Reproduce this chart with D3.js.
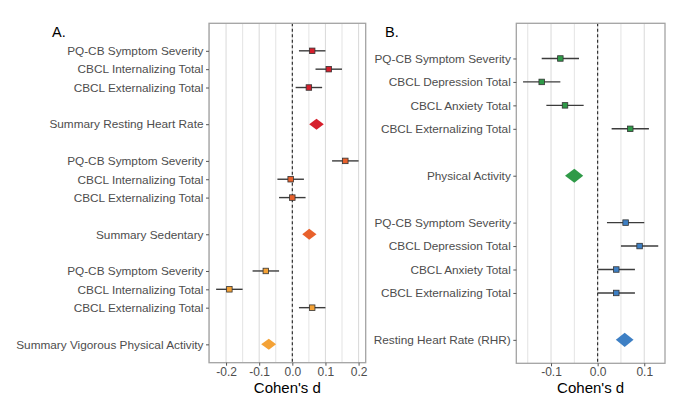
<!DOCTYPE html>
<html><head><meta charset="utf-8">
<script src="https://cdn.jsdelivr.net/npm/d3@7"></script>
<style>body{margin:0;background:#fff}svg{display:block}text{font-family:"Liberation Sans",Arial,sans-serif}</style>
</head><body><svg id="c" width="680" height="400"></svg>
<script>
// ---------- Panel A data ----------
const measuresA = ["PQ-CB Symptom Severity","CBCL Internalizing Total","CBCL Externalizing Total"];
const summaryLabelsA = ["Summary Resting Heart Rate","Summary Sedentary","Summary Vigorous Physical Activity"];
const estA = [[0.06, 0.11, 0.05],[0.16, -0.005, 0.0],[-0.08, -0.19, 0.06]];
const loA  = [[0.02, 0.07, 0.01],[0.12, -0.045, -0.04],[-0.12, -0.23, 0.02]];
const hiA  = [[0.10, 0.15, 0.09],[0.20, 0.035, 0.04],[-0.04, -0.15, 0.10]];
const sumEstA = [0.073, 0.051, -0.071];
const sumLoA  = [0.051, 0.030, -0.094];
const sumHiA  = [0.095, 0.073, -0.049];
const colorsA = ["#d61f2c","#e8612c","#f4a236"];
const ticksA = [-0.2,-0.1,0.0,0.1,0.2];

// ---------- Panel B data ----------
const measuresB = ["PQ-CB Symptom Severity","CBCL Depression Total","CBCL Anxiety Total","CBCL Externalizing Total"];
const summaryLabelsB = ["Physical Activity","Resting Heart Rate (RHR)"];
const estB = [[-0.08, -0.12, -0.07, 0.07],[0.06, 0.09, 0.04, 0.04]];
const loB  = [[-0.12, -0.16, -0.11, 0.03],[0.02, 0.05, 0.0, 0.0]];
const hiB  = [[-0.04, -0.08, -0.03, 0.11],[0.10, 0.13, 0.08, 0.08]];
const sumEstB = [-0.05, 0.058];
const sumLoB  = [-0.070, 0.039];
const sumHiB  = [-0.031, 0.077];
const colorsB = ["#2f9a48","#3d7fc4"];
const ticksB = [-0.1,0.0,0.1];

const svg = d3.select("#c");

function buildRows(measures, sumLabels, est, lo, hi, sEst, sLo, sHi, colors){
  const rows = []; let r = 0;
  sumLabels.forEach((s,g)=>{
    measures.forEach((m,i)=>{ rows.push({row:r++, label:m, est:est[g][i], lo:lo[g][i], hi:hi[g][i], color:colors[g], summary:false}); });
    r++;
    rows.push({row:r++, label:s, est:sEst[g], lo:sLo[g], hi:sHi[g], color:colors[g], summary:true});
    r++;
  });
  return rows;
}

function panel(opt){
  const rows = buildRows(opt.measures, opt.sumLabels, opt.est, opt.lo, opt.hi, opt.sEst, opt.sLo, opt.sHi, opt.colors);
  const lastRow = d3.max(rows, d=>d.row);
  const mn = d3.min(rows, d=>d.lo), mx = d3.max(rows, d=>d.hi);
  const pad = (mx-mn)*0.05;
  const x = d3.scaleLinear().domain([mn-pad, mx+pad]).range([opt.left, opt.right]);
  const y = d3.scaleLinear().domain([-1.5, lastRow+1]).range([opt.top, opt.bottom]);
  const g = svg.append("g");
  // grid
  const minor = d3.range(Math.ceil((mn-pad)/0.05)*0.05, mx+pad+1e-9, 0.05).map(v=>Math.round(v*100)/100);
  g.selectAll("line.grid").data(minor).enter().append("line")
    .attr("x1", d=>x(d)).attr("x2", d=>x(d)).attr("y1", opt.top).attr("y2", opt.bottom)
    .attr("stroke", "#dcdcdc").attr("stroke-width", d=> Math.abs(Math.round(d*100)%10)===0 ? 1.1 : 0.8);
  // zero line
  g.append("line").attr("x1", x(0)).attr("x2", x(0)).attr("y1", opt.top).attr("y2", opt.bottom)
    .attr("stroke", "#222").attr("stroke-width", 1.1).attr("stroke-dasharray", "3,2.5");
  // error bars
  const pts = rows.filter(d=>!d.summary), sums = rows.filter(d=>d.summary);
  g.selectAll("line.err").data(pts).enter().append("line")
    .attr("x1", d=>x(d.lo)).attr("x2", d=>x(d.hi)).attr("y1", d=>y(d.row)).attr("y2", d=>y(d.row))
    .attr("stroke", "#3c3c3c").attr("stroke-width", 1.4);
  const s = opt.sq;
  g.selectAll("rect.pt").data(pts).enter().append("rect")
    .attr("x", d=>x(d.est)-s/2).attr("y", d=>y(d.row)-s/2).attr("width", s).attr("height", s)
    .attr("fill", d=>d.color).attr("stroke", "#333").attr("stroke-width", 0.8);
  g.selectAll("path.dia").data(sums).enter().append("path")
    .attr("d", d=>{ const cy=y(d.row), h=(y(d.row+0.3)-y(d.row));
      return `M${x(d.lo)},${cy}L${x(d.est)},${cy-h}L${x(d.hi)},${cy}L${x(d.est)},${cy+h}Z`; })
    .attr("fill", d=>d.color);
  // border
  g.append("rect").attr("x", opt.left).attr("y", opt.top).attr("width", opt.right-opt.left).attr("height", opt.bottom-opt.top)
    .attr("fill", "none").attr("stroke", "#a3a3a3").attr("stroke-width", 1.3);
  // y axis
  const ya = d3.axisLeft(y).tickValues(rows.map(d=>d.row)).tickFormat(v=>rows.find(d=>d.row===v).label).tickSize(3).tickPadding(2.5);
  const yg = g.append("g").attr("transform", `translate(${opt.left},0)`).call(ya);
  yg.select(".domain").remove();
  yg.selectAll(".tick line").attr("stroke", "#555");
  yg.selectAll(".tick text").attr("fill", "#4d4d4d").style("font-size", "11.8px");
  // x axis
  const xa = d3.axisBottom(x).tickValues(opt.ticks).tickFormat(d3.format(".1f")).tickSize(3).tickPadding(1.5);
  const xg = g.append("g").attr("transform", `translate(0,${opt.bottom})`).call(xa);
  xg.select(".domain").remove();
  xg.selectAll(".tick line").attr("stroke", "#555");
  xg.selectAll(".tick text").attr("fill", "#4d4d4d").style("font-size", "12px")
    .text(function(d){ return d3.format(".1f")(d).replace("−","-"); });
  g.append("text").attr("x", (opt.left+opt.right)/2).attr("y", 392.5).attr("text-anchor","middle")
    .style("font-size","15px").attr("fill","#000").text("Cohen's d");
  g.append("text").attr("x", opt.tagX).attr("y", 37).style("font-size","14.5px").attr("fill","#000").text(opt.tag);
}

panel({measures:measuresA, sumLabels:summaryLabelsA, est:estA, lo:loA, hi:hiA, sEst:sumEstA, sLo:sumLoA, sHi:sumHiA,
  colors:colorsA, ticks:ticksA, left:209, right:365.7, top:23.3, bottom:362.7, sq:5.5, tag:"A.", tagX:52});
panel({measures:measuresB, sumLabels:summaryLabelsB, est:estB, lo:loB, hi:hiB, sEst:sumEstB, sLo:sumLoB, sHi:sumHiB,
  colors:colorsB, ticks:ticksB, left:516.3, right:665, top:23.3, bottom:363.3, sq:5.5, tag:"B.", tagX:385});
</script></body></html>
